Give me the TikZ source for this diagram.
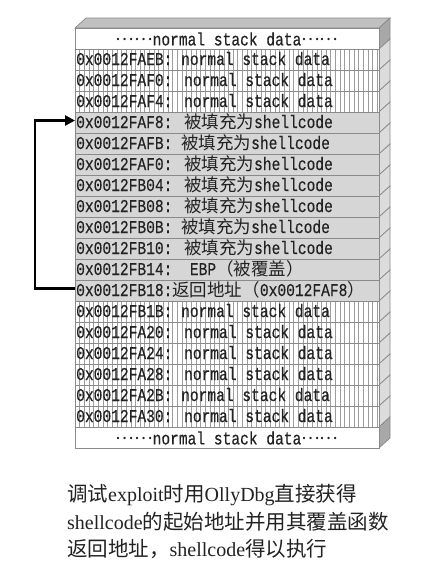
\documentclass[tikz,border=0pt]{standalone}
\usepackage{fontspec}
\setmainfont{Liberation Serif}
\newfontfamily\cjk{Noto Sans CJK SC}
\newfontfamily\mono[FakeStretch=0.81,FakeBold=0.4]{Liberation Mono}
\usetikzlibrary{arrows.meta,calc}
\definecolor{edge}{HTML}{8A8A8A}
\definecolor{shade}{HTML}{D6D6D6}
\definecolor{hatch}{HTML}{9C9C9C}
\definecolor{sidelight}{HTML}{DCDCDC}
\definecolor{sidedark}{HTML}{A8A8A8}
\definecolor{topface}{HTML}{C0C0C0}
\definecolor{ink}{HTML}{222222}
% CJK run inside a monospaced row label
\newcommand\zh[1]{{\fontsize{17.5}{21}\cjk #1}}
% centred dot leader of the boundary cells
\newcommand\dotlead{\raisebox{5pt}{\zh{……}}}
% CJK run inside the caption
\newcommand\zc[1]{{\fontsize{20.5}{27.5}\cjk #1}}
\begin{document}
\begin{tikzpicture}[x=1pt,y=-1pt,
  rowbox/.style={draw=edge,line width=0.7pt,minimum width=304pt,minimum height=21pt,
    inner sep=0pt,outer sep=0pt,anchor=north west},
  plainrow/.style={rowbox,fill=white},
  filledrow/.style={rowbox,fill=shade},
  rowtext/.style={anchor=base west,inner sep=0pt,font=\fontsize{18}{21}\mono,text=ink},
  captext/.style={anchor=base west,inner sep=0pt,font=\fontsize{20}{27.5}\selectfont,text=ink},
  jump/.style={line width=2.6pt,-{Triangle[length=10pt,width=10pt]}}]
\useasboundingbox (0,0) rectangle (429,571);

% --- depth faces of the stack block ---
\fill[topface,draw=edge,line width=0.7pt] (75,28) -- (86,18) -- (390,18) -- (379,28) -- cycle;
\foreach \i in {0,...,19}{
  \pgfmathsetmacro\ya{28+21*\i}
  \pgfmathsetmacro\yb{49+21*\i}
  \ifnum\i=0 \def\sc{sidedark}\else\ifnum\i=19 \def\sc{sidedark}\else\def\sc{sidelight}\fi\fi
  \fill[\sc,draw=edge,line width=0.7pt] (379,\ya) -- (390,\ya-10) -- (390,\yb-10) -- (379,\yb) -- cycle;
}

% --- front rows ---
\node[plainrow] (r0) at (75,28) {};
\foreach \i in {1,2,3,13,14,15,16,17,18}{
  \node[plainrow] (r\i) at (75,28+21*\i) {};
}
\foreach \i in {4,...,12}{
  \node[filledrow] (r\i) at (75,28+21*\i) {};
}
\node[plainrow] (r19) at (75,427) {};

% vertical hatching of the ordinary stack cells
\foreach \k in {1,...,65}{
  \draw[hatch,line width=0.55pt] (75+4.65*\k,49) -- (75+4.65*\k,112);
  \draw[hatch,line width=0.55pt] (75+4.65*\k,301) -- (75+4.65*\k,427);
}
\foreach \i in {1,2,3,13,14,15,16,17,18}{
  \draw[edge,line width=0.7pt] (r\i.north west) rectangle (r\i.south east);
}

% --- cell labels ---
\node[font=\fontsize{18}{21}\mono,text=ink,inner sep=0pt] (h0) at ($(r0.center)+(0,0.5)$) {\dotlead normal stack data\dotlead};
\node[font=\fontsize{18}{21}\mono,text=ink,inner sep=0pt] (h19) at ($(r19.center)+(0,0.5)$) {\dotlead normal stack data\dotlead};

\node[rowtext] (t1) at ($(r1.west)+(1,5.5)$) {0x0012FAEB: normal stack data};
\node[rowtext] (t2) at ($(r2.west)+(1,5.5)$) {0x0012FAF0: normal stack data};
\node[rowtext] (t3) at ($(r3.west)+(1,5.5)$) {0x0012FAF4: normal stack data};
\node[rowtext] (t4) at ($(r4.west)+(1,5.5)$) {0x0012FAF8: \zh{被填充为}shellcode};
\node[rowtext] (t5) at ($(r5.west)+(1,5.5)$) {0x0012FAFB: \zh{被填充为}shellcode};
\node[rowtext] (t6) at ($(r6.west)+(1,5.5)$) {0x0012FAF0: \zh{被填充为}shellcode};
\node[rowtext] (t7) at ($(r7.west)+(1,5.5)$) {0x0012FB04: \zh{被填充为}shellcode};
\node[rowtext] (t8) at ($(r8.west)+(1,5.5)$) {0x0012FB08: \zh{被填充为}shellcode};
\node[rowtext] (t9) at ($(r9.west)+(1,5.5)$) {0x0012FB0B: \zh{被填充为}shellcode};
\node[rowtext] (t10) at ($(r10.west)+(1,5.5)$) {0x0012FB10: \zh{被填充为}shellcode};
\node[rowtext] (t11) at ($(r11.west)+(1,5.5)$) {0x0012FB14:\hspace{17.5pt}EBP\zh{（被覆盖）}};
\node[rowtext] (t12) at ($(r12.west)+(1,5.5)$) {0x0012FB18:\zh{返回地址（}0x0012FAF8\zh{）}};
\node[rowtext] (t13) at ($(r13.west)+(1,5.5)$) {0x0012FB1B: normal stack data};
\node[rowtext] (t14) at ($(r14.west)+(1,5.5)$) {0x0012FA20: normal stack data};
\node[rowtext] (t15) at ($(r15.west)+(1,5.5)$) {0x0012FA24: normal stack data};
\node[rowtext] (t16) at ($(r16.west)+(1,5.5)$) {0x0012FA28: normal stack data};
\node[rowtext] (t17) at ($(r17.west)+(1,5.5)$) {0x0012FA2B: normal stack data};
\node[rowtext] (t18) at ($(r18.west)+(1,5.5)$) {0x0012FA30: normal stack data};

% --- overwritten return address points back into the shellcode ---
\draw[jump] ([yshift=2pt]r12.west) -- ++(-40,0) |- ([yshift=2pt]r4.west);

% --- caption ---
\node[captext] (c1) at (67,501) {\zc{调试}exploit\zc{时用}OllyDbg\zc{直接获得}};
\node[captext] (c2) at (67,529) {shellcode\zc{的起始地址并用其覆盖函数}};
\node[captext] (c3) at (67,556) {\zc{返回地址，}shellcode\zc{得以执行}};
\end{tikzpicture}
\end{document}
